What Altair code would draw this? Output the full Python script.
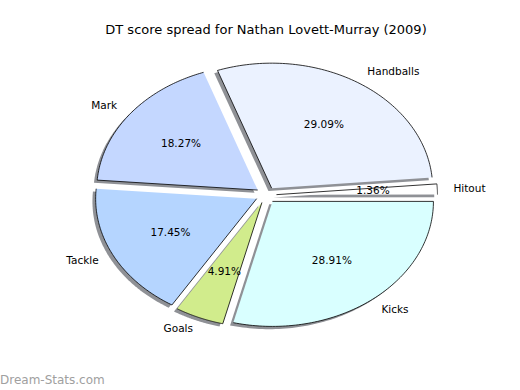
import altair as alt
import pandas as pd

# Data (clockwise from 3 o'clock)
categories = ["Kicks", "Goals", "Tackle", "Mark", "Handballs", "Hitout"]
percents = [28.91, 4.91, 17.45, 18.27, 29.09, 1.36]
colors = ["#D9FFFF", "#D1EC8C", "#B5D5FF", "#C4D7FF", "#EBF2FF", "#FFFFFF"]

title_text = "DT score spread for Nathan Lovett-Murray (2009)"
watermark = "Dream-Stats.com"

df = pd.DataFrame({"cat": categories, "pct": percents, "idx": list(range(len(categories)))})

EXPLODE = 0.065
N = 90  # arc sampling points
PAD_TOP = 45
W, H = 520, 390 - PAD_TOP
RX, RY = 161.0, 125.0
CX, CY = 266.0, 195.0 - PAD_TOP
xdom = [-CX / RX, (W - CX) / RX]
ydom = [(CY - H) / RY, CY / RY]

xs = alt.Scale(domain=xdom, nice=False, zero=False)
ys = alt.Scale(domain=ydom, nice=False, zero=False)

base = (
    alt.Chart(df)
    .transform_window(cum="sum(pct)", sort=[alt.SortField("idx")], frame=[None, 0])
    .transform_calculate(
        s="-2*PI*(datum.cum - datum.pct)/100",
        t="-2*PI*datum.cum/100",
    )
    .transform_calculate(m="(datum.s + datum.t)/2")
    .transform_calculate(
        cx=f"{EXPLODE}*cos(datum.m)",
        cy=f"{EXPLODE}*sin(datum.m)",
    )
)

poly = (
    base.transform_calculate(pts=f"sequence(0, {N + 1})")
    .transform_flatten(["pts"], as_=["i"])
    .transform_calculate(th=f"datum.s + (datum.t - datum.s)*(datum.i - 1)/{N - 1}")
    .transform_calculate(
        px="datum.i == 0 ? datum.cx : datum.cx + cos(datum.th)",
        py="datum.i == 0 ? datum.cy : datum.cy + sin(datum.th)",
    )
)

shadow = poly.transform_calculate(
    sx="datum.px - 0.02", sy="datum.py - 0.022"
).mark_line(fill="#8f9196", strokeOpacity=0, strokeWidth=0).encode(
    x=alt.X("sx:Q", scale=xs, axis=None),
    y=alt.Y("sy:Q", scale=ys, axis=None),
    order=alt.Order("i:Q"),
    detail="cat:N",
)

wedges = poly.mark_line(stroke="black", strokeWidth=0.8, strokeJoin="miter").encode(
    x=alt.X("px:Q", scale=xs, axis=None),
    y=alt.Y("py:Q", scale=ys, axis=None),
    order=alt.Order("i:Q"),
    detail="cat:N",
    fill=alt.Fill("cat:N", scale=alt.Scale(domain=categories, range=colors), legend=None),
)

labels_pos = base.transform_calculate(
    lx="datum.cx + 1.1*cos(datum.m)",
    ly="datum.cy + 1.1*sin(datum.m)",
    tx="datum.cx + 0.6*cos(datum.m)",
    ty="datum.cy + 0.6*sin(datum.m)",
    pl="format(datum.pct, '.2f') + '%'",
)

label_font = dict(font="DejaVu Sans", fontSize=10.5, color="black", baseline="middle")

labels_left = labels_pos.transform_filter("datum.lx > 0").mark_text(align="left", **label_font).encode(
    x=alt.X("lx:Q", scale=xs, axis=None),
    y=alt.Y("ly:Q", scale=ys, axis=None),
    text="cat:N",
)
labels_right = labels_pos.transform_filter("datum.lx <= 0").mark_text(align="right", **label_font).encode(
    x=alt.X("lx:Q", scale=xs, axis=None),
    y=alt.Y("ly:Q", scale=ys, axis=None),
    text="cat:N",
)
pct_labels = labels_pos.mark_text(align="center", **label_font).encode(
    x=alt.X("tx:Q", scale=xs, axis=None),
    y=alt.Y("ty:Q", scale=ys, axis=None),
    text="pl:N",
)

wm = alt.Chart(pd.DataFrame({"t": [watermark]})).mark_text(
    align="left", baseline="middle", font="DejaVu Sans", fontSize=12, color="#a0a0a0"
).encode(x=alt.value(0), y=alt.value(380 - PAD_TOP), text="t:N")

chart = (
    alt.layer(shadow, wedges, labels_left, labels_right, pct_labels, wm)
    .properties(
        width=W,
        height=H,
        title=alt.TitleParams(title_text, font="DejaVu Sans", fontSize=13, fontWeight="normal",
                              color="black", anchor="middle", offset=8, dx=6),
        autosize=alt.AutoSizeParams(type="none"),
        padding={"left": 0, "top": PAD_TOP, "right": 0, "bottom": 0},
        background="white",
    )
    .configure_view(stroke=None)
)

chart.save("out.html", embed_options={"renderer": "svg", "actions": False})
